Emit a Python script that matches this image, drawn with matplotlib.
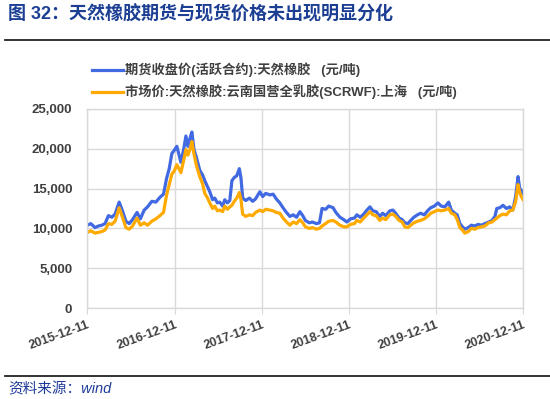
import matplotlib.pyplot as plt
import matplotlib.dates as mdates
from matplotlib.lines import Line2D
from matplotlib.ticker import FuncFormatter
import pandas as pd

plt.rcParams['font.family'] = ['Liberation Sans', 'Noto Sans CJK SC', 'DejaVu Sans']

title = '图 32：天然橡胶期货与现货价格未出现明显分化'
source = '资料来源：wind'
label_fut = '期货收盘价(活跃合约):天然橡胶   (元/吨)'
label_spot = '市场价:天然橡胶:云南国营全乳胶(SCRWF):上海   (元/吨)'

dates = [
    '2015-12-11', '2015-12-25', '2016-01-12', '2016-01-26', '2016-02-09', '2016-02-23',
    '2016-03-08', '2016-03-22', '2016-04-05', '2016-04-22', '2016-05-06', '2016-05-20',
    '2016-06-03', '2016-06-17', '2016-07-06', '2016-07-20', '2016-08-05', '2016-08-19',
    '2016-09-06', '2016-09-23', '2016-10-10', '2016-10-25', '2016-11-07', '2016-11-18',
    '2016-11-29', '2016-12-09', '2016-12-20', '2017-01-06', '2017-01-18', '2017-01-27',
    '2017-02-04', '2017-02-14', '2017-02-21', '2017-03-02', '2017-03-13', '2017-03-26',
    '2017-04-07', '2017-04-16', '2017-04-28', '2017-05-07', '2017-05-19', '2017-05-28',
    '2017-06-08', '2017-06-18', '2017-06-30', '2017-07-09', '2017-07-20', '2017-07-30',
    '2017-08-08', '2017-08-18', '2017-08-28', '2017-09-08', '2017-09-15', '2017-09-22',
    '2017-10-05', '2017-10-20', '2017-11-03', '2017-11-15', '2017-12-03', '2017-12-15',
    '2017-12-28', '2018-01-14', '2018-01-28', '2018-02-10', '2018-02-25', '2018-03-10',
    '2018-03-22', '2018-04-08', '2018-04-22', '2018-05-06', '2018-05-20', '2018-06-01',
    '2018-06-12', '2018-06-28', '2018-07-12', '2018-07-28', '2018-08-10', '2018-08-21',
    '2018-09-05', '2018-09-18', '2018-10-06', '2018-10-18', '2018-11-04', '2018-11-20',
    '2018-12-03', '2018-12-18', '2019-01-04', '2019-01-14', '2019-01-28', '2019-02-12',
    '2019-02-25', '2019-03-10', '2019-03-22', '2019-04-05', '2019-04-20', '2019-05-02',
    '2019-05-15', '2019-06-01', '2019-06-14', '2019-06-26', '2019-07-10', '2019-07-23',
    '2019-08-03', '2019-08-16', '2019-08-28', '2019-09-10', '2019-09-25', '2019-10-08',
    '2019-10-24', '2019-11-06', '2019-11-20', '2019-12-05', '2019-12-20', '2020-01-03',
    '2020-01-18', '2020-02-03', '2020-02-14', '2020-02-29', '2020-03-10', '2020-03-21',
    '2020-04-01', '2020-04-11', '2020-04-25', '2020-05-08', '2020-05-23', '2020-06-05',
    '2020-06-20', '2020-07-04', '2020-07-20', '2020-08-03', '2020-08-15', '2020-08-23',
    '2020-09-05', '2020-09-18', '2020-10-02', '2020-10-16', '2020-10-29', '2020-11-10',
    '2020-11-20', '2020-11-27', '2020-12-04', '2020-12-11',
]

# futures close, thousand yuan/ton
futures = [
    10.4, 10.6, 10.1, 10.3, 10.4, 10.6,
    11.6, 11.4, 11.8, 13.3, 12.2, 10.9,
    10.6, 11.1, 12.0, 11.2, 12.3, 12.7,
    13.4, 13.3, 13.9, 14.3, 16.3, 17.5,
    19.4, 19.8, 20.3, 18.3, 20.0, 21.6,
    20.3, 21.4, 22.1, 19.9, 18.8, 17.3,
    16.7, 16.0, 15.2, 14.6, 13.6, 13.8,
    13.2, 13.3, 12.8, 13.6, 13.2, 13.5,
    16.0, 16.4, 16.6, 17.5, 16.3, 13.8,
    13.5, 13.8, 13.4, 13.7, 14.6, 14.0,
    14.4, 14.2, 14.3, 13.7, 13.2, 12.6,
    12.1, 11.5, 11.7, 11.4, 12.1, 11.6,
    11.0, 10.7, 10.8, 10.6, 10.7, 12.5,
    12.4, 12.8, 12.6, 12.0, 11.4, 11.1,
    10.8, 11.2, 11.3, 11.7, 11.4, 11.8,
    12.3, 12.7, 12.2, 12.1, 11.5, 11.9,
    11.6, 12.2, 12.3, 11.9, 11.3, 11.1,
    10.7, 10.6, 11.0, 11.4, 11.7, 11.9,
    11.7, 12.2, 12.6, 12.8, 13.2, 12.8,
    12.7, 13.3, 12.3, 11.9, 11.7, 10.6,
    10.2, 9.9, 10.1, 10.4, 10.3, 10.5,
    10.4, 10.6, 10.8, 11.0, 11.5, 12.5,
    12.6, 12.9, 12.5, 12.7, 12.3, 14.0,
    16.5, 15.0, 14.8, 14.4,
]

# spot price, thousand yuan/ton
spot = [
    9.5, 9.7, 9.4, 9.5, 9.6, 9.8,
    10.6, 10.5, 10.9, 12.6, 11.4, 10.1,
    9.9, 10.3, 11.3, 10.4, 10.7, 10.4,
    10.9, 11.2, 11.6, 12.0, 14.2, 15.5,
    16.8, 17.2, 18.0, 17.0, 18.6, 19.9,
    19.2, 20.0, 20.9, 19.3, 17.8, 16.5,
    15.6, 14.4, 13.8, 13.2, 12.5, 12.8,
    12.2, 12.3, 12.1, 12.8, 12.4, 12.7,
    12.9, 13.4, 13.8, 14.5, 13.6, 11.8,
    11.5, 11.7, 11.6, 12.0, 12.3, 12.1,
    12.4, 12.3, 12.2, 12.0, 11.9, 11.3,
    10.9, 10.4, 10.8, 10.6, 11.1, 10.7,
    10.2, 10.0, 10.1, 9.9, 10.0, 10.3,
    10.6, 10.9, 11.0, 10.8, 10.4, 10.2,
    10.2, 10.5, 10.6, 11.0, 10.8, 11.3,
    11.7, 12.1, 11.7, 11.6, 11.0, 11.3,
    11.1, 11.7, 11.8, 11.5, 11.0, 10.8,
    10.2, 10.1, 10.4, 10.7, 10.9, 11.0,
    11.2, 11.5, 11.9, 12.1, 12.3, 12.2,
    12.3, 12.5, 11.9, 11.7, 11.1, 10.1,
    9.8, 9.4, 9.6, 10.0, 9.9, 10.1,
    10.2, 10.3, 10.7, 10.8, 11.1, 11.3,
    11.6, 11.8, 11.7, 12.2, 12.3, 13.4,
    15.5, 14.5, 14.0, 13.6,
]

x = pd.to_datetime(dates)
fut = [v * 1000 for v in futures]
spt = [v * 1000 for v in spot]

fig = plt.figure(figsize=(5.5, 3.99), dpi=100)
ax = fig.add_axes([0.159, 0.228, 0.792, 0.499])

blue = '#4169E1'
orange = '#FFAA00'
ax.plot(x, fut, color=blue, linewidth=2.3, solid_joinstyle='round')
ax.plot(x, spt, color=orange, linewidth=2.3, solid_joinstyle='round')

ticks = pd.to_datetime(['2015-12-11', '2016-12-11', '2017-12-11',
                        '2018-12-11', '2019-12-11', '2020-12-11'])
ax.set_xlim(ticks[0], ticks[-1])
ax.set_ylim(0, 25000)
ax.set_xticks(ticks)
ax.xaxis.set_major_formatter(mdates.DateFormatter('%Y-%m-%d'))
ax.set_yticks(range(0, 25001, 5000))
ax.yaxis.set_major_formatter(FuncFormatter(lambda v, p: '{:,.0f}'.format(v)))

grid_c = '#d9d9d9'
ax.grid(True, color=grid_c, linewidth=1)
ax.set_axisbelow(True)
for s in ax.spines.values():
    s.set_color(grid_c)
    s.set_linewidth(1)

for lab in ax.get_xticklabels():
    lab.set_rotation(20)
    lab.set_ha('right')
    lab.set_rotation_mode('anchor')
ax.tick_params(axis='x', length=4, color=grid_c, pad=4,
               labelsize=9, labelcolor='#404040')
ax.tick_params(axis='y', length=0, pad=11, labelsize=9.5, labelcolor='#404040')
for lab in ax.get_xticklabels() + ax.get_yticklabels():
    lab.set_fontweight('bold')

# legend drawn by hand above the plot
fig.add_artist(Line2D([92 / 550, 123 / 550], [1 - 70 / 399] * 2, color=blue, linewidth=2.3))
fig.add_artist(Line2D([92 / 550, 123 / 550], [1 - 92 / 399] * 2, color=orange, linewidth=2.3))
fig.text(125 / 550, 1 - 70 / 399, label_fut, fontsize=9.5, fontweight='bold',
         color='#404040', va='center')
fig.text(125 / 550, 1 - 92 / 399, label_spot, fontsize=9.5, fontweight='bold',
         color='#404040', va='center')

fig.text(8 / 550, 1 - 14 / 399, title, fontsize=13, fontweight='bold',
         color='#1c3f94', va='center')
fig.add_artist(Line2D([5 / 550, 1], [1 - 40 / 399] * 2, color='#222222', linewidth=1.3))
fig.add_artist(Line2D([5 / 550, 1], [1 - 376 / 399] * 2, color='#222222', linewidth=1.3))
fig.text(8 / 550, 1 - 389 / 399, source, fontsize=10.5, style='italic',
         color='#1f3c9a', va='center')

fig.savefig('out.png', dpi=100)
